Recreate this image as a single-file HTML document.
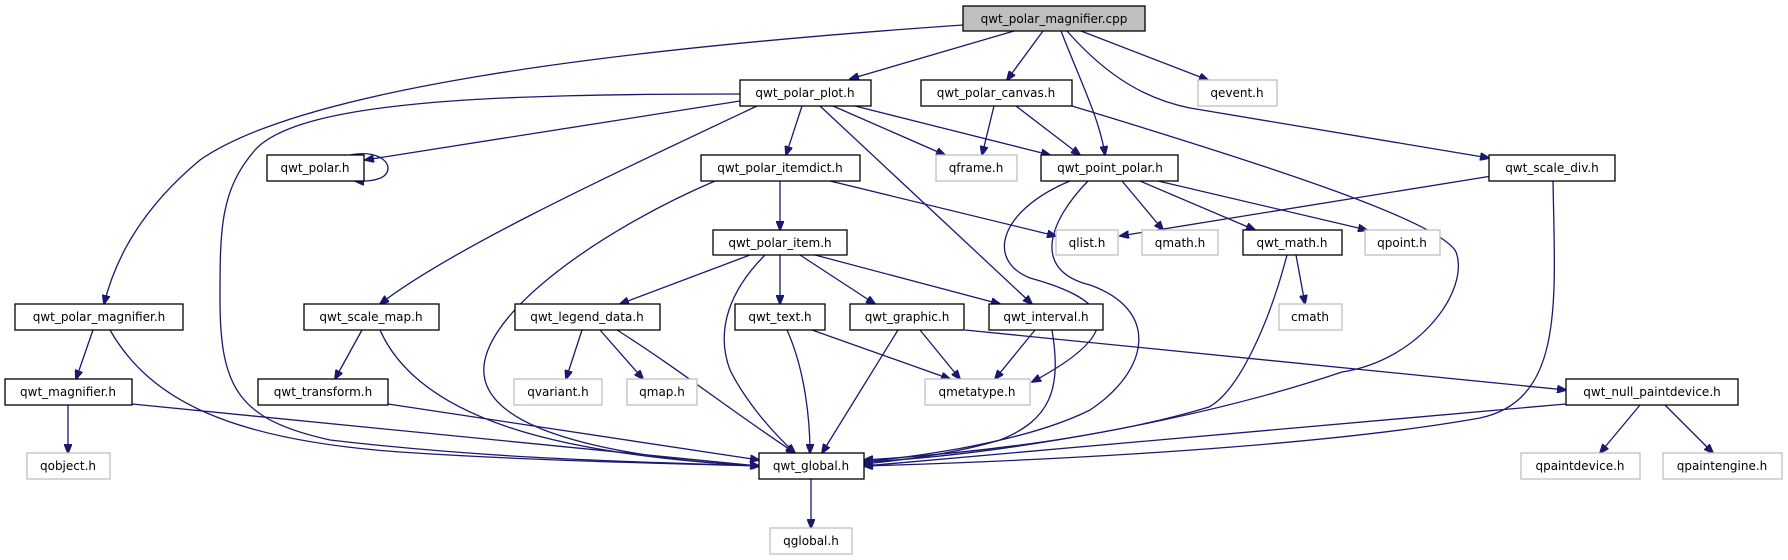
<!DOCTYPE html>
<html><head><meta charset="utf-8"><style>
html,body{margin:0;padding:0;background:#fff;}
svg{display:block;}
text{font-family:"DejaVu Sans","Liberation Sans",sans-serif;font-size:12px;text-anchor:middle;fill:#000;}
.e{fill:none;stroke:#191970;stroke-width:1.3;marker-end:url(#a);}
.n{fill:#fff;stroke:#000;stroke-width:1.3;}
.s{fill:#fff;stroke:#bfbfbf;stroke-width:1.3;}
</style></head><body>
<svg width="1788" height="560" viewBox="0 0 1788 560" xmlns="http://www.w3.org/2000/svg">
<defs><marker id="a" markerWidth="10" markerHeight="8" refX="9" refY="4" orient="auto" markerUnits="userSpaceOnUse"><path d="M0,0 L10,4 L0,8 z" fill="#191970" stroke="#191970"/></marker></defs>

<!-- edges -->
<path class="e" d="M963,25 C600,50 300,90 200,160 C140,210 115,260 104,304"/>
<path class="e" d="M1014,31 L850,79"/>
<path class="e" d="M1043,31 L1007,80"/>
<path class="e" d="M1061,31 C1080,80 1100,120 1105,155"/>
<path class="e" d="M1067,31 C1110,80 1150,100 1190,108 L1489,158"/>
<path class="e" d="M1081,31 L1208,80"/>
<path class="e" d="M740,101 L365,160"/>
<path class="e" d="M740,94 C500,94 300,100 255,150 C220,190 220,230 220,300 C220,390 240,420 330,440 C500,460 650,462 759,466"/>
<path class="e" d="M757,106 C600,180 450,250 380,304"/>
<path class="e" d="M802,106 L786,155"/>
<path class="e" d="M820,106 L1032,304"/>
<path class="e" d="M833,106 L945,155"/>
<path class="e" d="M855,106 L1050,155"/>
<path class="e" d="M350,155 C375,150 388,160 388,168 C388,178 375,182 355,181"/>
<path class="e" d="M994,106 L982,155"/>
<path class="e" d="M1016,106 L1080,155"/>
<path class="e" d="M1072,106 C1250,160 1440,220 1456,252 C1470,290 1420,360 1342,372 C1200,420 1000,455 864,462"/>
<path class="e" d="M780,181 L780,230"/>
<path class="e" d="M830,181 L1056,236"/>
<path class="e" d="M715,181 C600,230 470,320 485,380 C500,440 650,460 759,466"/>
<path class="e" d="M750,255 L620,304"/>
<path class="e" d="M765,255 C730,290 715,330 730,370 C745,400 770,430 795,453"/>
<path class="e" d="M780,255 L780,304"/>
<path class="e" d="M800,255 L875,304"/>
<path class="e" d="M815,255 L1000,304"/>
<path class="e" d="M1122,181 L1163,230"/>
<path class="e" d="M1140,181 L1255,230"/>
<path class="e" d="M1158,181 L1367,230"/>
<path class="e" d="M1070,181 C1000,210 985,260 1030,278 C1110,300 1130,330 1032,382"/>
<path class="e" d="M1088,181 C1050,220 1030,270 1090,285 C1160,310 1150,370 1090,410 C1020,445 900,458 864,462"/>
<path class="e" d="M1498,175 L1120,236"/>
<path class="e" d="M1553,181 C1555,300 1565,400 1480,418 C1300,450 1000,462 864,466"/>
<path class="e" d="M1296,255 L1305,304"/>
<path class="e" d="M1287,255 C1270,320 1240,390 1209,407 C1100,440 950,455 864,460"/>
<path class="e" d="M93,330 L76,379"/>
<path class="e" d="M110,330 C150,400 230,440 400,452 C550,462 700,464 759,466"/>
<path class="e" d="M362,330 L335,379"/>
<path class="e" d="M380,330 C420,420 560,455 759,466"/>
<path class="e" d="M582,330 L566,379"/>
<path class="e" d="M600,330 L643,379"/>
<path class="e" d="M617,330 C680,370 730,410 795,453"/>
<path class="e" d="M787,330 C805,370 810,420 810,453"/>
<path class="e" d="M812,330 L950,379"/>
<path class="e" d="M920,330 L960,379"/>
<path class="e" d="M898,330 L822,453"/>
<path class="e" d="M965,330 L1566,390"/>
<path class="e" d="M1035,330 L995,379"/>
<path class="e" d="M1052,330 C1062,390 1050,420 1000,440 C950,455 900,460 864,464"/>
<path class="e" d="M68,405 L68,453"/>
<path class="e" d="M132,404 L759,466"/>
<path class="e" d="M388,404 L759,460"/>
<path class="e" d="M1566,404 L864,466"/>
<path class="e" d="M1640,405 L1600,453"/>
<path class="e" d="M1665,405 L1713,453"/>
<path class="e" d="M811,479 L811,528"/>

<!-- nodes -->
<rect x="963" y="6" width="182" height="25" fill="#bfbfbf" stroke="#000" stroke-width="1.3"/><text x="1054" y="23">qwt_polar_magnifier.cpp</text>
<rect class="n" x="740" y="80" width="131" height="26"/><text x="805" y="97">qwt_polar_plot.h</text>
<rect class="n" x="921" y="80" width="151" height="26"/><text x="996" y="97">qwt_polar_canvas.h</text>
<rect class="s" x="1198" y="80" width="79" height="26"/><text x="1237" y="97">qevent.h</text>
<rect class="n" x="267" y="155" width="97" height="26"/><text x="315" y="172">qwt_polar.h</text>
<rect class="n" x="701" y="155" width="159" height="26"/><text x="780" y="172">qwt_polar_itemdict.h</text>
<rect class="s" x="936" y="155" width="81" height="26"/><text x="976" y="172">qframe.h</text>
<rect class="n" x="1041" y="155" width="137" height="26"/><text x="1110" y="172">qwt_point_polar.h</text>
<rect class="n" x="1489" y="155" width="126" height="26"/><text x="1552" y="172">qwt_scale_div.h</text>
<rect class="n" x="713" y="230" width="134" height="25"/><text x="780" y="247">qwt_polar_item.h</text>
<rect class="s" x="1056" y="230" width="62" height="25"/><text x="1087" y="247">qlist.h</text>
<rect class="s" x="1142" y="230" width="76" height="25"/><text x="1180" y="247">qmath.h</text>
<rect class="n" x="1243" y="230" width="99" height="25"/><text x="1292" y="247">qwt_math.h</text>
<rect class="s" x="1365" y="230" width="75" height="25"/><text x="1402" y="247">qpoint.h</text>
<rect class="n" x="15" y="304" width="168" height="26"/><text x="99" y="321">qwt_polar_magnifier.h</text>
<rect class="n" x="304" y="304" width="135" height="26"/><text x="371" y="321">qwt_scale_map.h</text>
<rect class="n" x="515" y="304" width="145" height="26"/><text x="587" y="321">qwt_legend_data.h</text>
<rect class="n" x="735" y="304" width="90" height="26"/><text x="780" y="321">qwt_text.h</text>
<rect class="n" x="850" y="304" width="114" height="26"/><text x="907" y="321">qwt_graphic.h</text>
<rect class="n" x="989" y="304" width="114" height="26"/><text x="1046" y="321">qwt_interval.h</text>
<rect class="s" x="1279" y="304" width="63" height="26"/><text x="1310" y="321">cmath</text>
<rect class="n" x="5" y="379" width="127" height="26"/><text x="68" y="396">qwt_magnifier.h</text>
<rect class="n" x="258" y="379" width="130" height="26"/><text x="323" y="396">qwt_transform.h</text>
<rect class="s" x="514" y="379" width="88" height="26"/><text x="558" y="396">qvariant.h</text>
<rect class="s" x="627" y="379" width="70" height="26"/><text x="662" y="396">qmap.h</text>
<rect class="s" x="925" y="379" width="105" height="26"/><text x="977" y="396">qmetatype.h</text>
<rect class="n" x="1566" y="379" width="172" height="26"/><text x="1652" y="396">qwt_null_paintdevice.h</text>
<rect class="s" x="27" y="453" width="83" height="26"/><text x="68" y="470">qobject.h</text>
<rect class="n" x="759" y="453" width="105" height="26"/><text x="811" y="470">qwt_global.h</text>
<rect class="s" x="1521" y="453" width="119" height="26"/><text x="1580" y="470">qpaintdevice.h</text>
<rect class="s" x="1663" y="453" width="119" height="26"/><text x="1722" y="470">qpaintengine.h</text>
<rect class="s" x="770" y="528" width="82" height="26"/><text x="811" y="545">qglobal.h</text>
</svg>
</body></html>
